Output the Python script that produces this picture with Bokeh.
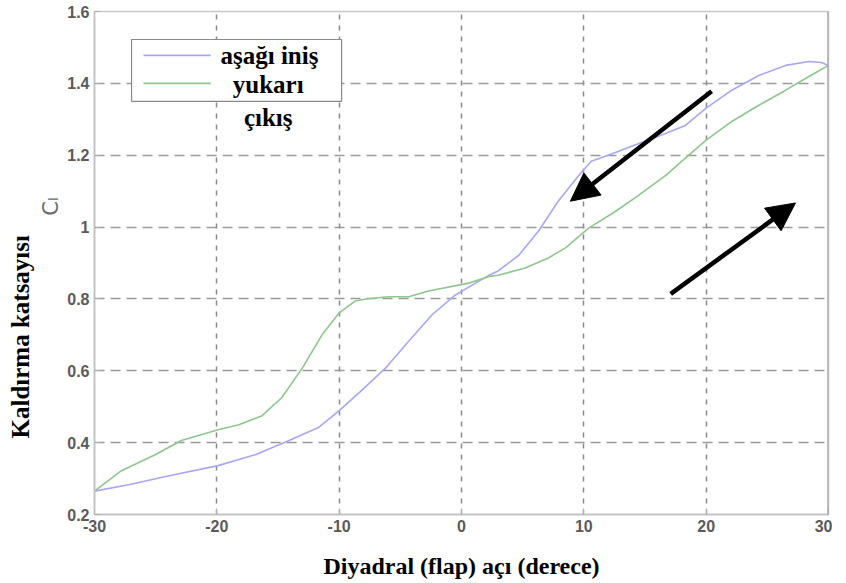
import math
from bokeh.plotting import figure
from bokeh.models import (FixedTicker, Label, Arrow, NormalHead, Span, Title)
from bokeh.embed import file_html
from bokeh.resources import INLINE

# ---- data ----
x_ticks = [-30, -20, -10, 0, 10, 20, 30]
x_tick_labels = ["-30", "-20", "-10", "0", "10", "20", "30"]
y_ticks = [0.2, 0.4, 0.6, 0.8, 1.0, 1.2, 1.4, 1.6]

down_x = [-30, -27.2, -23.9, -19.9, -16.8, -14.1, -11.7, -10.0, -8.2, -6.2,
          -4.3, -2.4, -0.5, 2.2, 3.0, 4.7, 6.3, 7.9, 9.6, 10.6, 12.0, 13.9,
          16.1, 18.3, 20.0, 22.1, 24.3, 26.5, 28.4, 29.4, 30]
down_y = [0.265, 0.283, 0.308, 0.336, 0.367, 0.406, 0.442, 0.489, 0.544, 0.608,
          0.683, 0.756, 0.811, 0.865, 0.878, 0.922, 0.989, 1.072, 1.144, 1.183,
          1.200, 1.225, 1.253, 1.283, 1.331, 1.381, 1.422, 1.450, 1.461, 1.458,
          1.450]

up_x = [-30, -27.8, -25.0, -22.9, -19.9, -18.2, -16.3, -14.7, -13.0, -11.4,
        -10.0, -8.7, -7.8, -6.0, -4.3, -2.7, 0.6, 2.2, 3.0, 5.2, 7.1, 8.5,
        10.4, 12.6, 14.5, 16.7, 18.3, 20.0, 22.1, 24.3, 26.5, 28.4, 30]
up_y = [0.265, 0.322, 0.367, 0.406, 0.436, 0.450, 0.475, 0.525, 0.608, 0.700,
        0.761, 0.794, 0.800, 0.806, 0.806, 0.822, 0.844, 0.862, 0.866, 0.886,
        0.914, 0.942, 0.997, 1.044, 1.089, 1.144, 1.192, 1.242, 1.294, 1.339,
        1.381, 1.419, 1.450]

series_names = ["aşağı iniş", "yukarı", "çıkış"]
x_title = "Diyadral (flap) açı (derece)"
y_title = "Kaldırma katsayısı"
y_symbol = "Cₗ"

BLUE = "#a7a7f2"
GREEN = "#8ec78e"

p = figure(frame_width=734, frame_height=503,
           x_range=(-30, 30), y_range=(0.2, 1.6),
           output_backend="svg", toolbar_location=None,
           min_border_left=94, min_border_right=4,
           min_border_top=11, min_border_bottom=50,
           background_fill_color="white", border_fill_color="white")

p.outline_line_color = "#c8c8c8"
p.outline_line_width = 1.5

# axes
p.xaxis.ticker = FixedTicker(ticks=x_ticks)
p.xaxis.major_label_overrides = {t: s for t, s in zip(x_ticks, x_tick_labels)}
p.yaxis.ticker = FixedTicker(ticks=y_ticks)
p.yaxis.major_label_overrides = {1.0: "1", 1: "1"}
for ax in (p.xaxis, p.yaxis):
    ax.axis_line_color = "#c0c0c0"
    ax.axis_line_width = 1.5
    ax.major_tick_in = 6
    ax.major_tick_out = 0
    ax.major_tick_line_color = "#b0b0b0"
    ax.minor_tick_line_color = None
    ax.major_label_text_font = "Liberation Sans"
    ax.major_label_text_font_style = "bold"
    ax.major_label_text_font_size = "16px"
    ax.major_label_text_color = "#5a5a5a"
    ax.major_label_standoff = 5

p.xaxis.axis_label = x_title
p.xaxis.axis_label_text_font = "Liberation Serif"
p.xaxis.axis_label_text_font_style = "bold"
p.xaxis.axis_label_text_font_size = "24px"
p.xaxis.axis_label_text_color = "black"
p.xaxis.axis_label_standoff = 18

# y title pieces as side titles
sym = Title(text=y_symbol, align="right", offset=186,
            text_font="DejaVu Sans", text_font_style="normal",
            text_font_size="21px", text_color="#6a6a6a", standoff=4)
p.add_layout(sym, "left")
ytl = Title(text=y_title, align="left", offset=76,
            text_font="Liberation Serif", text_font_style="bold",
            text_font_size="25px", text_color="black", standoff=2)
p.add_layout(ytl, "left")

# grid
p.xgrid.grid_line_color = "#8a8a8a"
p.xgrid.grid_line_dash = "5 6"
p.xgrid.grid_line_width = 1.5
p.ygrid.grid_line_color = "#9a9a9a"
p.ygrid.grid_line_dash = "10 6"
p.ygrid.grid_line_width = 1.5

# right frame edge darker
p.add_layout(Span(location=30, dimension="height", line_color="#a8a8a8",
                  line_width=2.5))

# curves
p.line(down_x, down_y, line_color=BLUE, line_width=1.6)
p.line(up_x, up_y, line_color=GREEN, line_width=1.6)

# manual legend (box + sample lines)
legend_box = dict(left=-26.97, right=-9.8, bottom=1.35, top=1.522)
p.quad(fill_color="white", line_color="#8a8a8a", line_width=1.2, **legend_box)
p.line([-26.0, -20.5], [1.478, 1.478], line_color=BLUE, line_width=1.6)
p.line([-26.0, -20.5], [1.400, 1.400], line_color=GREEN, line_width=1.6)

leg_font = dict(text_font="Liberation Serif", text_font_style="bold",
                text_font_size="25px", text_color="black",
                text_baseline="middle")
p.add_layout(Label(x=-19.7, y=1.478, text=series_names[0], text_align="left", **leg_font))
p.add_layout(Label(x=-15.8, y=1.397, text=series_names[1], text_align="center", **leg_font))
p.add_layout(Label(x=-15.8, y=1.305, text=series_names[2], text_align="center", **leg_font))

# direction arrows
arrows = [((20.45, 1.378), (8.9, 1.072)), ((17.1, 0.814), (27.3, 1.067))]
for (xs, ys), (xe, ye) in arrows:
    p.add_layout(Arrow(end=NormalHead(size=28, fill_color="black",
                                      line_color="black"),
                       x_start=xs, y_start=ys, x_end=xe, y_end=ye,
                       line_width=4.5, line_color="black"))

open("out.html", "w").write(file_html(p, INLINE))
